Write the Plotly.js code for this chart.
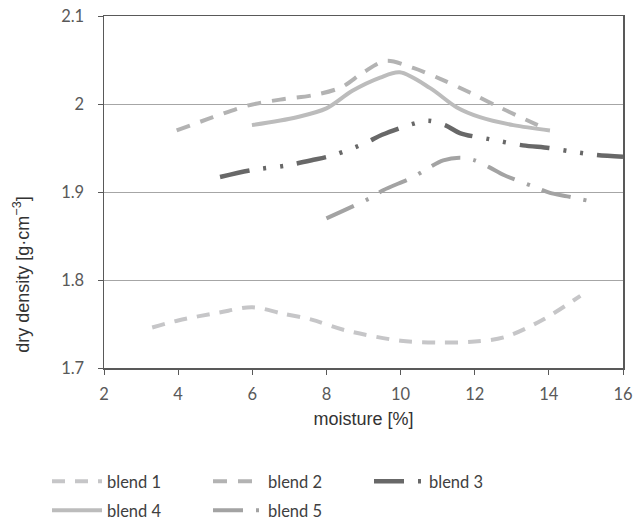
<!DOCTYPE html>
<html>
<head>
<meta charset="utf-8">
<script src="https://cdn.plot.ly/plotly-3.0.1.min.js"></script>
<style>html,body{margin:0;padding:0;background:#fff}#chart{width:634px;height:521px}</style>
</head>
<body>
<div id="chart"></div>
<script>
const seriesNames = ["blend 1", "blend 2", "blend 3", "blend 4", "blend 5"];

const blend1X = [3.3, 4.0, 5.1, 6.0, 6.8, 7.6, 8.5, 10.0, 11.0, 12.0, 12.8, 13.8, 14.85];
const blend1Y = [1.746, 1.754, 1.763, 1.769, 1.762, 1.755, 1.743, 1.731, 1.729, 1.730, 1.735, 1.754, 1.782];

const blend2X = [3.96, 4.94, 5.86, 6.75, 7.64, 8.4, 9.0, 9.6, 10.34, 11.1, 11.87, 12.68, 13.7];
const blend2Y = [1.970, 1.985, 1.998, 2.005, 2.010, 2.019, 2.036, 2.049, 2.041, 2.028, 2.013, 1.996, 1.976];

const blend3X = [5.13, 6.0, 6.9, 7.6, 8.2, 9.07, 9.5, 10.3, 10.74, 11.2, 11.6, 12.4, 13.3, 14.0, 14.6, 15.3, 16.0];
const blend3Y = [1.917, 1.925, 1.930, 1.936, 1.942, 1.956, 1.965, 1.977, 1.981, 1.976, 1.967, 1.960, 1.953, 1.950, 1.946, 1.942, 1.940];

const blend4X = [5.99, 7.2, 8.0, 8.7, 9.45, 9.98, 10.8, 11.52, 12.14, 13.04, 14.03];
const blend4Y = [1.976, 1.985, 1.995, 2.015, 2.030, 2.036, 2.018, 1.996, 1.985, 1.976, 1.970];

const blend5X = [8.0, 9.17, 9.53, 10.34, 10.74, 11.15, 11.6, 12.0, 12.4, 12.8, 13.6, 14.03, 14.5, 15.3];
const blend5Y = [1.870, 1.893, 1.902, 1.917, 1.927, 1.936, 1.939, 1.936, 1.928, 1.919, 1.906, 1.899, 1.895, 1.888];

const xTicks = [2, 4, 6, 8, 10, 12, 14, 16];
const yTicks = [1.7, 1.8, 1.9, 2.0, 2.1];
const yTickText = ["1.7", "1.8", "1.9", "2", "2.1"];

function mk(name, x, y, color, dash, width, legendId) {
  return {
    type: "scatter", mode: "lines", name: name, x: x, y: y,
    legend: legendId,
    line: {color: color, dash: dash, width: width, shape: "spline", smoothing: 0.9},
    hoverinfo: "skip"
  };
}

const data = [
  mk(seriesNames[0], blend1X, blend1Y, "#c6c6c8", "13px,10px", 4, "legend"),
  mk(seriesNames[1], blend2X, blend2Y, "#b3b3b3", "14px,11px", 4, "legend"),
  mk(seriesNames[2], blend3X, blend3Y, "#686868", "30px,14px,3px,14px,3px,14px", 4.5, "legend"),
  mk(seriesNames[3], blend4X, blend4Y, "#bcbcbc", "solid", 4, "legend2"),
  mk(seriesNames[4], blend5X, blend5Y, "#a3a3a3", "30px,13px,3px,13px", 4, "legend2")
];

const tickFont = {family: "Lato, 'Open Sans', sans-serif", size: 16.5, color: "#595959"};
const legFont = {family: "Lato, 'Open Sans', sans-serif", size: 16.5, color: "#404040"};

function legendAt(yTop) {
  return {
    orientation: "h", x: 47 / 634, xref: "container", y: 1 - yTop / 521, yref: "container",
    xanchor: "left", yanchor: "top",
    entrywidth: 96, entrywidthmode: "pixels",
    font: legFont, itemwidth: 50, bgcolor: "rgba(0,0,0,0)"
  };
}

const layout = {
  width: 634, height: 521,
  margin: {l: 104, r: 11, t: 16, b: 153},
  paper_bgcolor: "#ffffff", plot_bgcolor: "#ffffff",
  showlegend: true,
  xaxis: {
    range: [2, 16], tickvals: xTicks, ticktext: xTicks.map(String),
    showgrid: false, zeroline: false,
    showline: true, linecolor: "#595959", linewidth: 1.5, mirror: true,
    ticks: "outside", ticklen: 5, tickcolor: "#595959",
    tickfont: tickFont, ticklabelstandoff: 6,
    title: {text: "moisture [%]", font: {family: "'Liberation Sans', Arial, sans-serif", size: 18, color: "#333333"}, standoff: 9}
  },
  yaxis: {
    range: [1.7, 2.1], tickvals: yTicks, ticktext: yTickText,
    showgrid: true, gridcolor: "#a6a6a6", gridwidth: 1, zeroline: false,
    showline: true, linecolor: "#595959", linewidth: 1.5, mirror: true,
    ticks: "outside", ticklen: 5, tickcolor: "#595959",
    tickfont: tickFont, ticklabelstandoff: 10
  },
  legend: legendAt(464),
  legend2: legendAt(493),
  annotations: [{
    text: "dry density [g·cm<sup>−3</sup>]",
    textangle: -90, showarrow: false,
    xref: "paper", yref: "paper", xanchor: "center", yanchor: "middle",
    x: -0.158, y: 0.265,
    font: {family: "'Liberation Sans', Arial, sans-serif", size: 18, color: "#333333"}
  }]
};

Plotly.newPlot("chart", data, layout, {displayModeBar: false, staticPlot: true});
</script>
</body>
</html>
